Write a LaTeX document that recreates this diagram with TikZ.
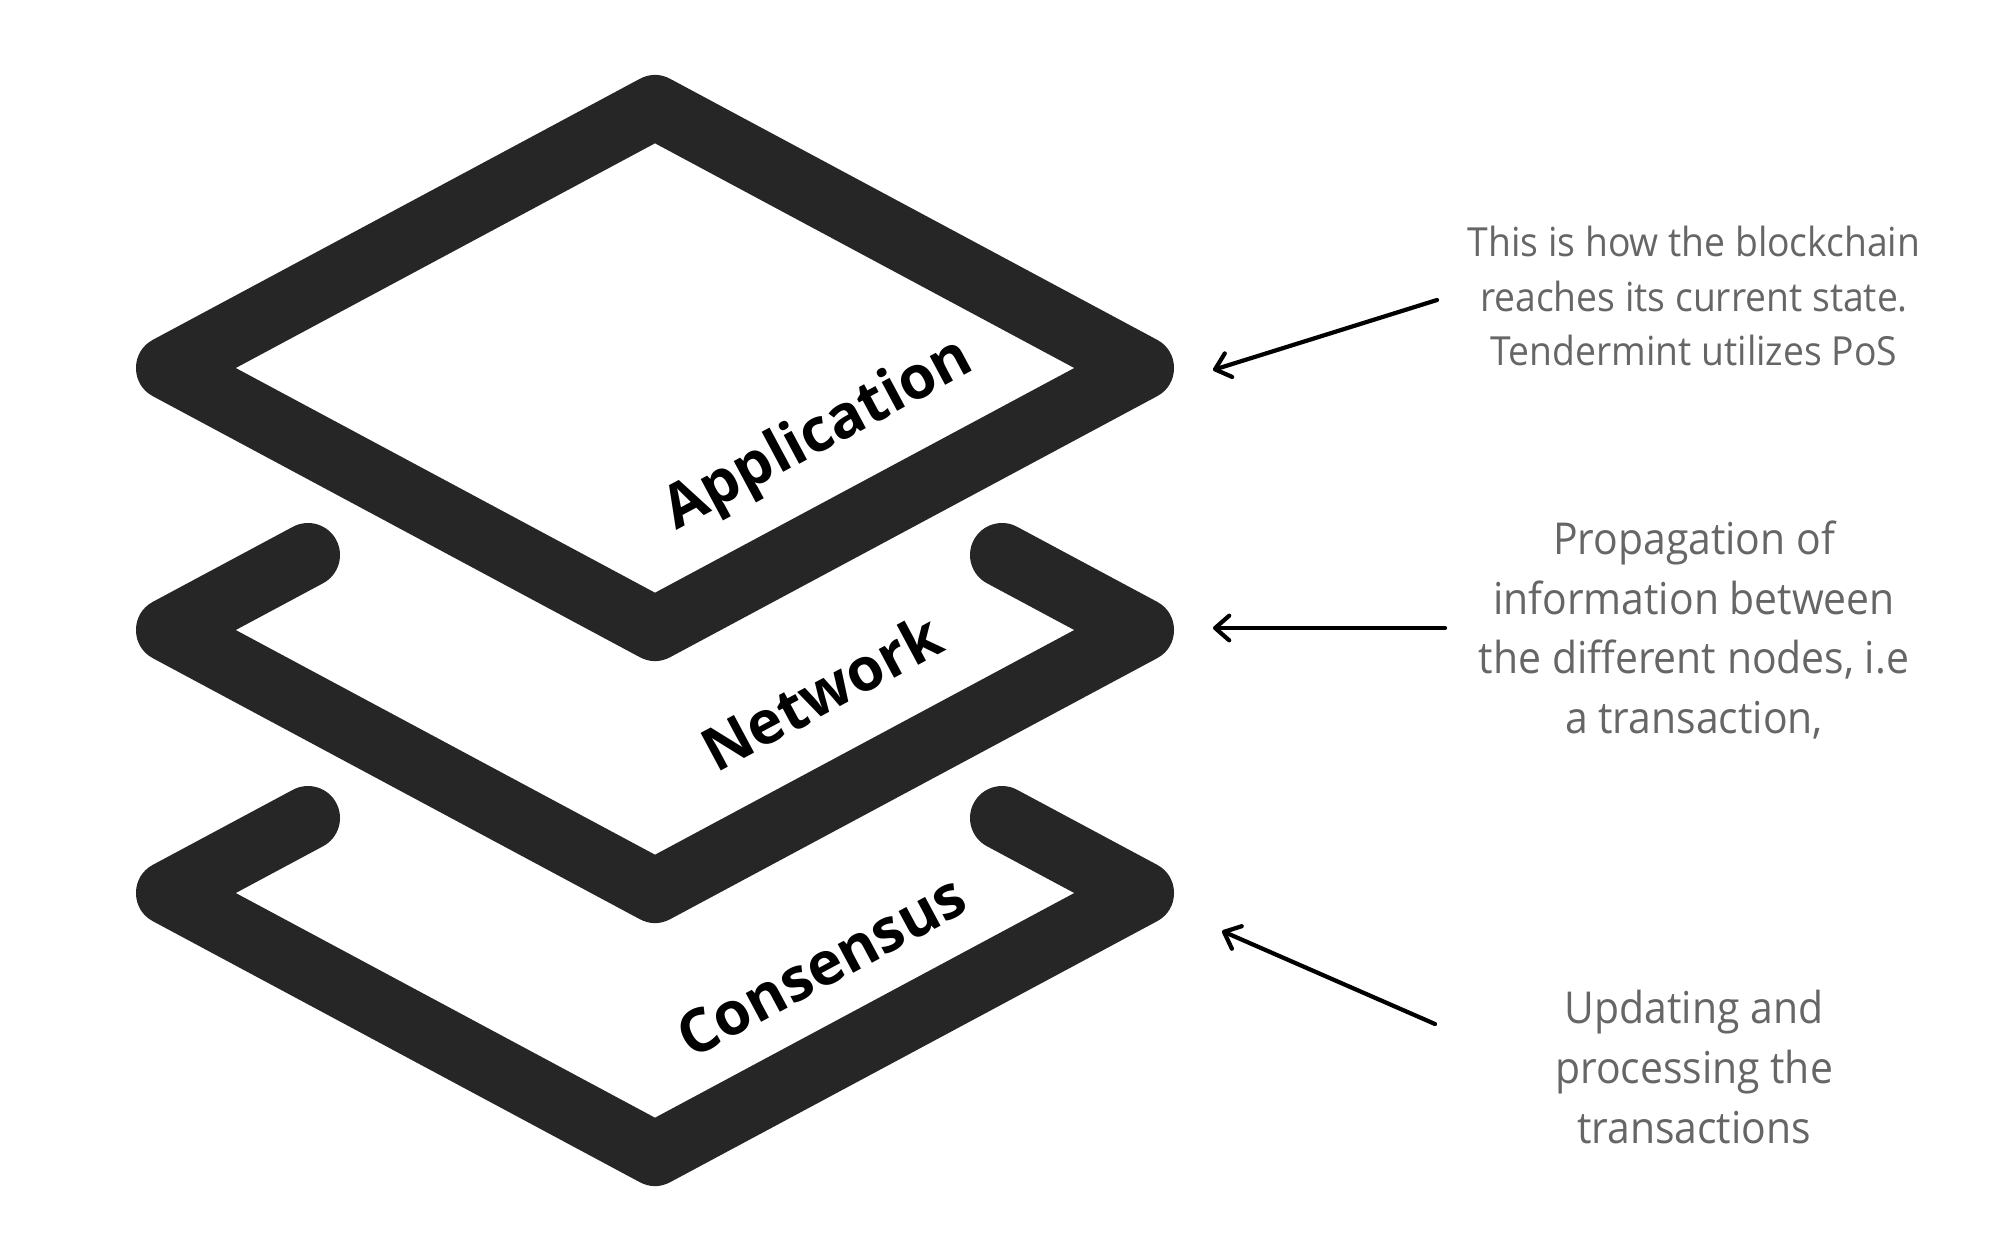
\documentclass[tikz,border=0pt]{standalone}
\usepackage{fontspec}
\usetikzlibrary{arrows.meta}
\newfontfamily\layerfont{Open Sans}
\newfontfamily\notefont[FakeStretch=0.93]{Open Sans}
\definecolor{layerink}{HTML}{262626}
\definecolor{noteink}{HTML}{666666}

\begin{document}
\begin{tikzpicture}[x=0.01cm, y=-0.01cm,
  layer/.style={draw=layerink, line width=18.2pt, line join=round, line cap=round},
  layername/.style={font=\layerfont\bfseries\fontsize{17}{20}\selectfont, rotate=28.2},
  note/.style={text=noteink, align=center, font=\notefont\fontsize{12.5}{17}\selectfont},
  pointer/.style={line width=1.2pt, line cap=round, -{Straight Barb[length=4pt,width=7pt,round]}}]
  \useasboundingbox (0,0) rectangle (2000,1236);
  \draw[layer] (655,107) -- (1142,368) -- (655,629) -- (168,368) -- cycle;
  \draw[layer] (308,555) -- (168,630) -- (655,891) -- (1142,630) -- (1002,555);
  \draw[layer] (308,818) -- (168,893) -- (655,1154) -- (1142,893) -- (1002,818);
  \node[layername] (app) at (819,436) {Application};
  \node[layername] (net) at (821,692) {Network};
  \node[layername] (con) at (821,966) {Consensus};
  \node[note, font=\notefont\fontsize{11.4}{15.6}\selectfont] (appNote) at (1694,296)
    {This is how the blockchain\\reaches its current state.\\Tendermint utilizes PoS};
  \node[note] (netNote) at (1694,630)
    {Propagation of\\information between\\the different nodes, i.e\\a transaction,};
  \node[note] (conNote) at (1694,1067) {Updating and\\processing the\\transactions};
  \coordinate (appTail) at (1437,300);
  \coordinate (appTip) at (1213,370);
  \coordinate (netTail) at (1445,628);
  \coordinate (netTip) at (1213,628);
  \coordinate (conTail) at (1435,1024);
  \coordinate (conTip) at (1222,931);
  \draw[pointer] (appTail) -- (appTip);
  \draw[pointer] (netTail) -- (netTip);
  \draw[pointer] (conTail) -- (conTip);
\end{tikzpicture}
\end{document}
